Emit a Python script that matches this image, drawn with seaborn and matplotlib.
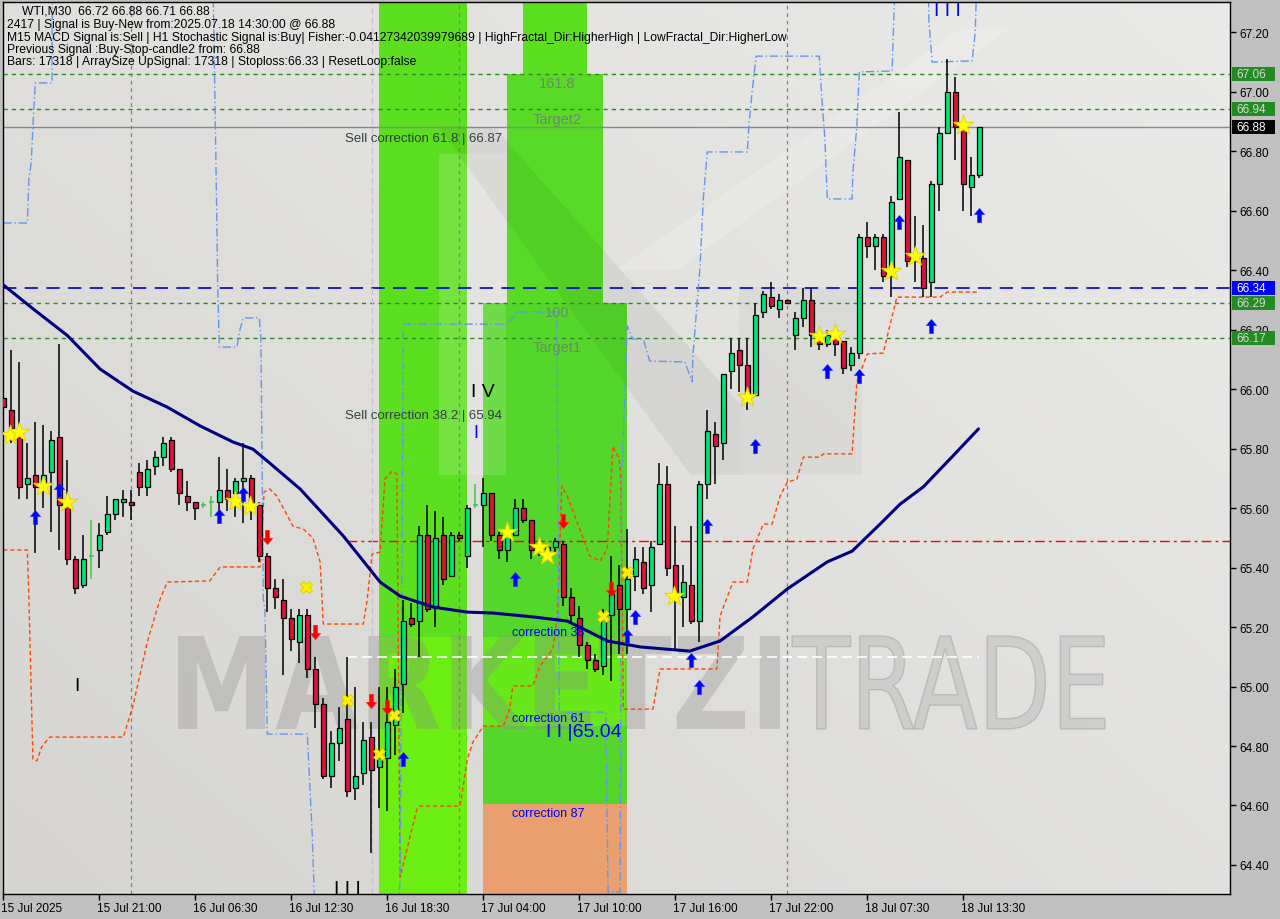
import numpy as np
import pandas as pd
import seaborn as sns
import matplotlib
matplotlib.use("Agg")
import matplotlib.pyplot as plt
from matplotlib.path import Path
from matplotlib.patches import Rectangle, PathPatch
from matplotlib.textpath import TextPath
from matplotlib.font_manager import FontProperties
from matplotlib.colors import LinearSegmentedColormap
import matplotlib.transforms as mtransforms

# ---------------- data ----------------
opens = [65.97, 65.93, 65.84, 65.68, 65.71, 65.68, 65.72, 65.84, 65.61, 65.43,
         65.34, 65.44, 65.46, 65.52, 65.58, 65.62, 65.62, 65.72, 65.67, 65.74,
         65.77, 65.83, 65.73, 65.64, 65.62, 65.61, 65.62, 65.62, 65.66, 65.65,
         65.69, 65.70, 65.61, 65.44, 65.33, 65.29, 65.23, 65.15, 65.24, 65.06,
         64.94, 64.70, 64.81, 64.89, 64.66, 64.71, 64.83, 64.73, 64.76, 64.87,
         65.01, 65.23, 65.22, 65.51, 65.27, 65.51, 65.37, 65.51, 65.44, 65.61,
         65.61, 65.65, 65.51, 65.46, 65.51, 65.60, 65.56, 65.47, 65.46, 65.47,
         65.48, 65.30, 65.23, 65.14, 65.09, 65.07, 65.24, 65.34, 65.26, 65.37,
         65.42, 65.34, 65.48, 65.68, 65.41, 65.30, 65.34, 65.22, 65.68, 65.85,
         65.82, 66.06, 66.13, 66.08, 65.98, 66.26, 66.31, 66.27, 66.30, 66.18,
         66.24, 66.30, 66.18, 66.15, 66.17, 66.16, 66.08, 66.12, 66.51, 66.48,
         66.51, 66.38, 66.64, 66.77, 66.45, 66.44, 66.36, 66.69, 66.86, 67.00,
         66.88, 66.68, 66.72]
highs = [66.07, 66.13, 66.09, 65.82, 65.89, 65.88, 65.86, 66.15, 65.76, 65.44,
         65.51, 65.56, 65.55, 65.64, 65.63, 65.66, 65.66, 65.75, 65.76, 65.79,
         65.84, 65.84, 65.73, 65.69, 65.62, 65.62, 65.64, 65.77, 65.73, 65.70,
         65.82, 65.71, 65.62, 65.45, 65.36, 65.36, 65.26, 65.26, 65.26, 65.10,
         64.96, 64.85, 64.93, 65.10, 65.00, 64.88, 64.88, 65.00, 65.00, 65.06,
         65.29, 65.28, 65.54, 65.61, 65.59, 65.57, 65.52, 65.52, 65.61, 65.68,
         65.70, 65.65, 65.52, 65.53, 65.63, 65.63, 65.56, 65.49, 65.48, 65.50,
         65.49, 65.33, 65.27, 65.15, 65.11, 65.26, 65.44, 65.41, 65.53, 65.47,
         65.47, 65.49, 65.75, 65.74, 65.54, 65.41, 65.54, 65.69, 65.93, 65.89,
         66.05, 66.17, 66.17, 66.17, 66.29, 66.33, 66.36, 66.32, 66.30, 66.26,
         66.34, 66.34, 66.18, 66.20, 66.19, 66.16, 66.14, 66.52, 66.56, 66.52,
         66.52, 66.65, 66.93, 66.77, 66.58, 66.55, 66.70, 66.88, 67.11, 67.05,
         66.88, 66.78, 66.88]
lows = [65.87, 65.82, 65.63, 65.63, 65.45, 65.60, 65.52, 65.46, 65.41, 65.31,
        65.33, 65.36, 65.40, 65.51, 65.56, 65.57, 65.56, 65.64, 65.64, 65.71,
        65.74, 65.72, 65.61, 65.59, 65.56, 65.60, 65.57, 65.55, 65.59, 65.57,
        65.55, 65.56, 65.42, 65.25, 65.26, 65.04, 65.12, 65.08, 65.03, 64.86,
        64.69, 64.66, 64.75, 64.63, 64.62, 64.67, 64.44, 64.59, 64.58, 64.77,
        64.91, 65.20, 65.10, 65.25, 65.20, 65.34, 65.37, 65.49, 65.40, 65.60,
        65.47, 65.49, 65.43, 65.42, 65.51, 65.55, 65.43, 65.44, 65.45, 65.45,
        65.27, 65.21, 65.10, 65.06, 65.05, 65.04, 65.02, 65.11, 65.11, 65.32,
        65.31, 65.25, 65.48, 65.37, 65.12, 65.20, 65.21, 65.15, 65.63, 65.68,
        65.76, 66.00, 65.99, 65.93, 65.98, 66.24, 66.27, 66.24, 66.29, 66.13,
        66.21, 66.14, 66.13, 66.14, 66.11, 66.05, 66.06, 66.10, 66.44, 66.40,
        66.36, 66.31, 66.64, 66.41, 66.36, 66.31, 66.31, 66.60, 66.86, 66.77,
        66.60, 66.58, 66.71]
closes = [65.94, 65.87, 65.67, 65.70, 65.67, 65.71, 65.83, 65.61, 65.43, 65.33,
          65.43, 65.44, 65.51, 65.58, 65.63, 65.63, 65.61, 65.67, 65.73, 65.77,
          65.82, 65.73, 65.65, 65.62, 65.60, 65.61, 65.62, 65.66, 65.63, 65.69,
          65.70, 65.61, 65.44, 65.33, 65.30, 65.23, 65.16, 65.24, 65.06, 64.94,
          64.70, 64.81, 64.86, 64.65, 64.70, 64.82, 64.72, 64.76, 64.88, 65.00,
          65.22, 65.21, 65.51, 65.26, 65.50, 65.36, 65.51, 65.50, 65.60, 65.61,
          65.65, 65.51, 65.46, 65.52, 65.60, 65.56, 65.46, 65.46, 65.47, 65.49,
          65.30, 65.24, 65.14, 65.09, 65.06, 65.24, 65.31, 65.26, 65.36, 65.43,
          65.33, 65.47, 65.68, 65.40, 65.31, 65.35, 65.22, 65.68, 65.86, 65.81,
          66.05, 66.12, 66.08, 65.98, 66.25, 66.32, 66.28, 66.30, 66.29, 66.24,
          66.30, 66.18, 66.15, 66.18, 66.15, 66.07, 66.12, 66.51, 66.48, 66.51,
          66.38, 66.63, 66.78, 66.43, 66.43, 66.34, 66.69, 66.86, 67.00, 66.88,
          66.69, 66.72, 66.88]

tick_idx = [0, 12, 24, 36, 48, 60, 72, 84, 96, 108, 120]
tick_labels = ["15 Jul 2025", "15 Jul 21:00", "16 Jul 06:30", "16 Jul 12:30",
               "16 Jul 18:30", "17 Jul 04:00", "17 Jul 10:00", "17 Jul 16:00",
               "17 Jul 22:00", "18 Jul 07:30", "18 Jul 13:30"]
price_ticks = [64.40, 64.60, 64.80, 65.00, 65.20, 65.40, 65.60, 65.80,
               66.00, 66.20, 66.40, 66.60, 66.80, 67.00, 67.20]

ma_idx = [0, 3.7, 8.0, 12.1, 16.2, 20.5, 24.6, 28.7, 31.2, 33.0, 37.1, 42.5,
          47.1, 49.6, 53.7, 58.0, 61.2, 66.2, 70.5, 73.3, 75.5, 79.6, 85.8,
          89.6, 93.7, 98.0, 103.0, 106.1, 109.6, 112.1, 115.0, 118.7, 121.9]
ma_val = [66.35, 66.27, 66.18, 66.067, 65.993, 65.939, 65.876, 65.822, 65.798,
          65.758, 65.664, 65.506, 65.351, 65.304, 65.267, 65.250, 65.247, 65.234,
          65.220, 65.183, 65.153, 65.133, 65.119, 65.153, 65.234, 65.328, 65.419,
          65.455, 65.546, 65.613, 65.671, 65.775, 65.866]

orange_idx = [0, 3.0, 3.2, 3.7, 4.2, 4.8, 5.8, 15.0, 16.2, 18.0, 19.6, 20.5, 25.8,
              27.1, 32.1, 32.6, 33.3, 34.2, 36.2, 37.5, 38.7, 39.6, 40.0, 45.0,
              45.5, 46.1, 47.1, 47.7, 48.6, 49.2, 49.6, 51.7, 52.1, 57.1, 58.0,
              58.7, 60.0, 62.5, 63.3, 63.7, 66.2, 67.1, 68.7, 69.3, 69.8, 70.5,
              73.3, 74.6, 75.5, 76.2, 77.0, 77.2, 77.5, 81.2, 82.1, 89.2, 89.6,
              91.2, 93.0, 93.7, 95.0, 96.1, 97.1, 98.0, 99.2, 100.0, 102.1, 102.5,
              106.1, 106.7, 108.0, 110.0, 110.5, 111.7, 117.1, 118.0, 121.8]
orange_val = [65.459, 65.459, 65.294, 64.756, 64.750, 64.797, 64.830, 64.830,
              64.934, 65.150, 65.294, 65.351, 65.355, 65.402, 65.402, 65.654,
              65.664, 65.640, 65.539, 65.529, 65.499, 65.419, 65.210, 65.210,
              65.294, 65.445, 65.452, 65.697, 65.724, 65.714, 64.360, 64.588,
              64.598, 64.598, 64.756, 64.813, 64.867, 64.867, 64.924, 65.002,
              65.002, 65.069, 65.126, 65.250, 65.674, 65.640, 65.439, 65.422,
              65.462, 65.808, 65.765, 65.687, 64.924, 64.924, 65.059, 65.059,
              65.237, 65.351, 65.351, 65.462, 65.546, 65.546, 65.640, 65.687,
              65.697, 65.771, 65.771, 65.782, 65.782, 66.024, 66.118, 66.121,
              66.178, 66.309, 66.309, 66.326, 66.326]

blue_idx = [0, 3.0, 3.2, 3.5, 3.7, 4.0, 6.1, 6.1, 26.2, 26.6, 26.8, 27.0, 29.2,
            29.6, 30.0, 32.0, 32.2, 32.5, 32.7, 33.0, 38.0, 38.6, 39.0, 49.3,
            49.6, 50.0, 63.0, 64.2, 69.2, 69.5, 75.3, 75.6, 77.1, 77.3, 78.0,
            78.7, 80.0, 80.8, 85.2, 86.1, 86.2, 87.1, 87.5, 88.0, 93.0, 93.2,
            93.6, 94.1, 102.0, 102.3, 102.7, 103.0, 106.1, 106.2, 106.7, 107.0,
            111.1, 111.5, 115.6, 115.7, 116.1, 121.1, 121.5, 121.7]
blue_val = [66.558, 66.558, 66.706, 66.763, 66.884, 67.029, 67.029, 67.40, 67.40,
            66.723, 66.346, 66.141, 66.141, 66.202, 66.239, 66.239, 66.168, 65.294,
            65.261, 64.840, 64.840, 64.511, 64.20, 64.20, 64.353, 66.218, 66.218,
            66.259, 66.259, 64.914, 64.914, 64.309, 64.309, 65.697, 66.212, 66.168,
            66.168, 66.094, 66.091, 66.024, 66.111, 66.413, 66.639, 66.797, 66.797,
            66.884, 66.998, 67.119, 67.119, 66.985, 66.840, 66.639, 66.639, 66.729,
            66.884, 67.066, 67.069, 67.40, 67.40, 67.24, 67.099, 67.103, 67.20, 67.40]

star_idx = [0.85, 1.95, 4.95, 7.95, 29.0, 30.85, 63.0, 67.0, 68.0, 83.8, 93.0,
            102.0, 104.0, 111.0, 114.0, 120.0]
star_val = [65.845, 65.855, 65.674, 65.620, 65.624, 65.607, 65.519, 65.469, 65.442,
            65.304, 65.973, 66.178, 66.185, 66.397, 66.447, 66.887]
xmark_idx = [37.8, 43.0, 48.8, 47.0, 75.0, 78.0]
xmark_val = [65.334, 64.955, 64.904, 64.773, 65.237, 65.385]
up_idx = [4.0, 7.0, 27.0, 30.0, 50.0, 64.0, 78.0, 79.0, 86.0, 87.0, 88.0, 94.0,
          103.0, 107.0, 112.0, 116.0, 122.0]
up_val = [65.570, 65.661, 65.573, 65.647, 64.756, 65.361, 65.170, 65.234, 65.089,
          64.998, 65.539, 65.808, 66.061, 66.044, 66.561, 66.212, 66.585]
down_idx = [33.0, 39.0, 46.0, 48.0, 70.0, 76.0]
down_val = [65.503, 65.183, 64.951, 64.931, 65.556, 65.328]

green_levels = [67.06, 66.94, 66.29, 66.17]
price_line = 66.88
stop_line = 66.34
red_level = 65.49
white_level = 65.10
separator_idx = [16, 57, 98]

header_lines = [
    "WTI,M30  66.72 66.88 66.71 66.88",
    "2417 | Signal is Buy-New from:2025.07.18 14:30:00 @ 66.88",
    "M15 MACD Signal is:Sell | H1 Stochastic Signal is:Buy| Fisher:-0.04127342039979689 | HighFractal_Dir:HigherHigh | LowFractal_Dir:HigherLow",
    "Previous Signal :Buy-Stop-candle2 from: 66.88",
    "Bars: 17318 | ArraySize UpSignal: 17318 | Stoploss:66.33 | ResetLoop:false",
]

# ---------------- figure ----------------
sns.set_theme(style="white")
plt.rcParams["font.family"] = ["Liberation Sans", "DejaVu Sans"]
W, H = 1280, 920
fig = plt.figure(figsize=(W / 100, H / 100), dpi=100, facecolor="#C0C0C0")
ax = fig.add_axes([3 / W, 25 / H, 1227 / W, 892 / H])

XMIN, XMAX = -0.04, 153.34
YMIN, YMAX = 64.3025, 67.301

# background gradient
gx = np.linspace(0, 1, 200)
gy = np.linspace(0, 1, 200)
GX, GY = np.meshgrid(gx, gy)
grad = 0.55 * GX + 0.45 * GY
bgcmap = LinearSegmentedColormap.from_list("bg", ["#D6D5D2", "#EAEAE8"])
ax.imshow(grad, extent=[0, 1, 0, 1], transform=ax.transAxes, origin="lower",
          aspect="auto", cmap=bgcmap, zorder=0)

# green/orange bands
def band(i0, i1, p0, p1, color, z=0.5):
    ax.add_patch(Rectangle((i0, p0), i1 - i0, p1 - p0, facecolor=color,
                           edgecolor="none", zorder=z))

band(46.96, 57.96, 65.166, 67.40, "#5CDF1E")
band(46.96, 57.96, 64.20, 65.166, "#6CEE12")
band(64.96, 72.96, 67.06, 67.40, "#5CDF1E")
band(62.96, 74.96, 66.29, 67.06, "#58DA26")
band(59.96, 77.96, 64.605, 66.29, "#55D62A")
band(59.96, 77.96, 64.867, 65.166, "#66E81A", z=0.55)
band(59.96, 77.96, 64.20, 64.605, "#E9A06E")

# faint logo shapes (decor)
for verts, col, al in [
    ([(0.355, 0.83), (0.41, 0.83), (0.41, 0.47), (0.355, 0.47)], "white", 0.15),
    ([(0.355, 0.86), (0.40, 0.86), (0.60, 0.55), (0.60, 0.47), (0.56, 0.47)], "#000000", 0.05),
    ([(0.60, 0.68), (0.70, 0.68), (0.70, 0.47), (0.60, 0.47)], "#000000", 0.035),
    ([(0.50, 0.70), (0.78, 0.97), (0.82, 0.97), (0.55, 0.70)], "white", 0.18),
]:
    ax.add_patch(plt.Polygon(verts, closed=True, transform=ax.transAxes,
                             facecolor=col, edgecolor="none", alpha=al, zorder=0.6))

# watermark text
def watermark(text, x0, x1, ytop, ybot, weight, fc, ec, alpha):
    fp = FontProperties(family="DejaVu Sans", weight=weight)
    tp = TextPath((0, 0), text, size=100, prop=fp)
    e = tp.get_extents()
    sx = (x1 - x0) / e.width / W
    sy = (ybot - ytop) / e.height / H
    tr = (mtransforms.Affine2D().translate(-e.x0, -e.y0).scale(sx, sy)
          .translate(x0 / W, (H - ybot) / H) + fig.transFigure)
    ax.add_patch(PathPatch(tp, transform=tr, facecolor=fc, edgecolor=ec,
                           lw=1.0, alpha=alpha, zorder=0.8))

watermark("MARKETZI", 178, 780, 637, 730, "bold", "#8C8C8C", "none", 0.33)
watermark("TRADE", 792, 1105, 637, 730, "normal", "#B8B8B8", "#9A9A9A", 0.45)

# horizontal levels
for lv in green_levels:
    ax.axhline(lv, color="#2A8A20", lw=1, ls=(0, (3, 3)), zorder=1.5)
ax.axhline(price_line, color="#7A8B99", lw=1, zorder=1.5)
ax.axhline(stop_line, color="#0000CD", lw=1.2, ls=(0, (8, 5)), zorder=1.5)
ax.plot([43, XMAX], [red_level, red_level], color="#FF0000", lw=1,
        ls=(0, (7, 3, 2, 3)), zorder=1.5)
ax.plot([43, 122], [white_level, white_level], color="white", lw=1.2,
        ls=(0, (6, 3)), zorder=1.5)
for s in separator_idx:
    ax.axvline(s, color="#7F7F7F", lw=0.9, ls=(0, (3, 3)), zorder=1.5)
ax.axvline(46.1, color="#C4C4C4", lw=0.9, ls=(0, (5, 3)), zorder=1.5)

# envelope lines
sns.lineplot(x=orange_idx, y=orange_val, ax=ax, color="#FF4500", lw=1,
             estimator=None, sort=False, zorder=2, linestyle=(0, (3, 2)))
sns.lineplot(x=blue_idx, y=blue_val, ax=ax, color="#6495ED", lw=1,
             estimator=None, sort=False, zorder=2, linestyle=(0, (6, 2, 1, 2)))

# candles
df = pd.DataFrame({"o": opens, "h": highs, "l": lows, "c": closes})
df["i"] = np.arange(len(df))
for r in df.itertuples():
    doji = abs(r.c - r.o) < 0.005
    wick_col = "#3CCB3C" if doji else "black"
    ax.vlines(r.i, r.l, r.h, color=wick_col, lw=1.1, zorder=3)
    if doji:
        ax.hlines(r.o, r.i - 0.3, r.i + 0.3, color="#3CCB3C", lw=1.2, zorder=3.1)
    else:
        col = "#00E676" if r.c > r.o else "#DC143C"
        ax.add_patch(Rectangle((r.i - 0.31, min(r.o, r.c)), 0.62, abs(r.c - r.o),
                               facecolor=col, edgecolor="black", lw=0.9, zorder=3.1))

# moving average
sns.lineplot(x=ma_idx, y=ma_val, ax=ax, color="#00007F", lw=2.2,
             estimator=None, sort=False, zorder=3.5)

# markers
up_arrow = Path([(0, 1), (-0.75, 0.1), (-0.3, 0.1), (-0.3, -1), (0.3, -1),
                 (0.3, 0.1), (0.75, 0.1), (0, 1)],
                [Path.MOVETO] + [Path.LINETO] * 6 + [Path.CLOSEPOLY])
down_arrow = Path([(x, -y) for x, y in up_arrow.vertices], up_arrow.codes)

sns.scatterplot(x=star_idx, y=star_val, ax=ax, marker="*", s=230,
                color="#FFFF00", edgecolor="#E0D000", linewidth=0.6, zorder=4)
sns.scatterplot(x=xmark_idx, y=xmark_val, ax=ax, marker="X", s=75,
                color="#FFEE00", edgecolor="#D8C400", linewidth=0.5, zorder=4)
sns.scatterplot(x=up_idx, y=up_val, ax=ax, marker=up_arrow, s=110,
                color="#0000FF", edgecolor="#3355FF", linewidth=0.3, zorder=4)
sns.scatterplot(x=down_idx, y=down_val, ax=ax, marker=down_arrow, s=110,
                color="#FF0000", edgecolor="#FF3333", linewidth=0.3, zorder=4)

# chart texts
fib_col = "#2F3F3F"
tgt_col = "#6A8A6A"
ax.text(42.7, 66.844, "Sell correction 61.8 | 66.87", fontsize=9.5, color=fib_col,
        va="center", ha="left", zorder=5)
ax.text(42.7, 65.913, "Sell correction 38.2 | 65.94", fontsize=9.5, color=fib_col,
        va="center", ha="left", zorder=5)
ax.text(69.2, 67.029, "161.8", fontsize=10.5, color=tgt_col, ha="center", va="center", zorder=5)
ax.text(69.2, 66.908, "Target2", fontsize=10.5, color=tgt_col, ha="center", va="center", zorder=5)
ax.text(69.2, 66.259, "100", fontsize=10.5, color=tgt_col, ha="center", va="center", zorder=5)
ax.text(69.2, 66.141, "Target1", fontsize=10.5, color=tgt_col, ha="center", va="center", zorder=5)
ax.text(60.0, 65.99, "I V", fontsize=14, color="black", ha="center", va="center", zorder=5)
ax.text(59.1, 65.855, "I", fontsize=13, color="#0000FF", ha="center", va="center", zorder=5)
ax.text(63.6, 65.183, "correction 38", fontsize=9, color="#0000FF", ha="left", va="center", zorder=5)
ax.text(63.6, 64.895, "correction 61", fontsize=9, color="#0000FF", ha="left", va="center", zorder=5)
ax.text(63.6, 64.575, "correction 87", fontsize=9, color="#0000FF", ha="left", va="center", zorder=5)
ax.text(67.8, 64.850, "I I |65.04", fontsize=14, color="#0000FF", ha="left", va="center", zorder=5)
ax.text(9.2, 65.002, "I", fontsize=14, color="black", ha="center", va="center", zorder=5)
ax.text(43.0, 64.322, "I I I", fontsize=14, color="black", ha="center", va="center", zorder=5)
ax.text(118.0, 67.272, "I I I", fontsize=14, color="#0000FF", ha="center", va="center", zorder=5)

# header
hy = [12, 25, 37.5, 49.5, 61.5]
hx = [22, 7, 7, 7, 7]
for t, x, y in zip(header_lines, hx, hy):
    fig.text(x / W, 1 - y / H, t, fontsize=8.7, color="black", va="center", ha="left",
             zorder=10)

# axes formatting
ax.set_xlim(XMIN, XMAX)
ax.set_ylim(YMIN, YMAX)
ax.yaxis.tick_right()
ax.set_yticks(price_ticks)
ax.set_yticklabels([f"{p:.2f}" for p in price_ticks])
ax.set_xticks(tick_idx)
ax.set_xticklabels(tick_labels, ha="left")
ax.tick_params(axis="y", which="both", right=True, left=False, length=4, width=1,
               color="black", labelsize=8.5, pad=3, labelcolor="black")
ax.tick_params(axis="x", which="both", bottom=True, length=4, width=1, color="black",
               labelsize=8.5, pad=2, labelcolor="black")
offset = mtransforms.ScaledTranslation(-2 / 100, 0, fig.dpi_scale_trans)
for lab in ax.get_xticklabels():
    lab.set_transform(lab.get_transform() + offset)
ax.set_xlabel("")
ax.set_ylabel("")
for sp in ax.spines.values():
    sp.set_visible(True)
    sp.set_color("black")
    sp.set_linewidth(1)
ax.grid(False)

# right-side price boxes
blend = mtransforms.blended_transform_factory(ax.transAxes, ax.transData)
boxes = [(67.06, "#228B22", "#D8D8D8"), (66.94, "#228B22", "#D8D8D8"),
         (66.88, "#000000", "#FFFFFF"), (66.34, "#0000FF", "#FFFFFF"),
         (66.29, "#228B22", "#D8D8D8"), (66.17, "#228B22", "#D8D8D8")]
bh = 14 / 297.5
for p, fc, tc in boxes:
    ax.add_patch(Rectangle((1.0 + 2 / 1227, p - bh / 2), 43 / 1227, bh,
                           transform=blend, facecolor=fc, edgecolor="none",
                           clip_on=False, zorder=6))
    ax.text(1.0 + 6 / 1227, p, f"{p:.2f}", transform=blend, fontsize=8.5,
            color=tc, va="center", ha="left", clip_on=False, zorder=7)

fig.savefig("out.png", dpi=100, facecolor=fig.get_facecolor())
